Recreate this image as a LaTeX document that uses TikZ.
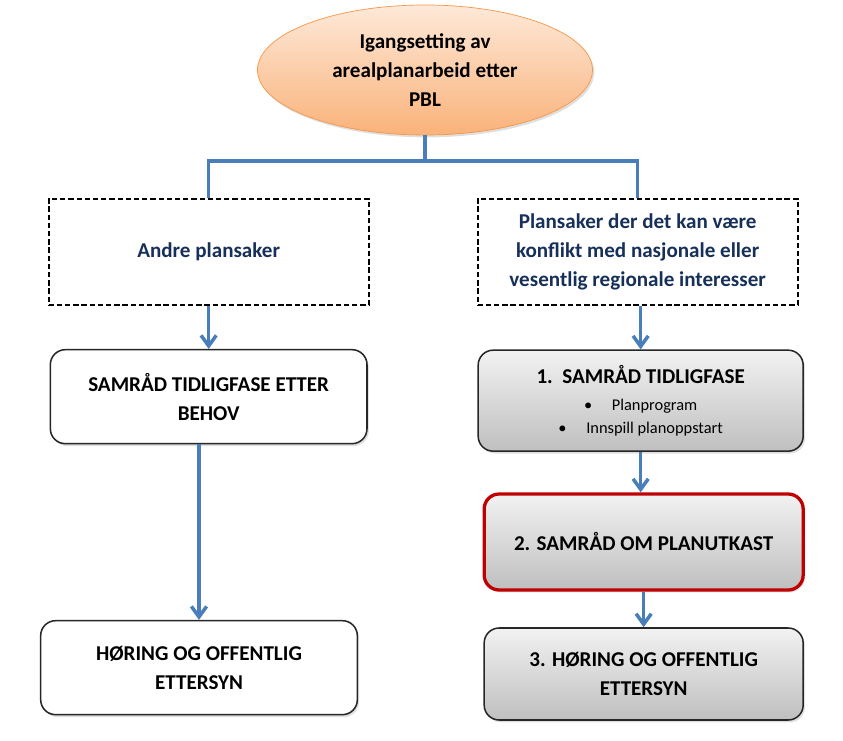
\documentclass[tikz,border=0pt]{standalone}
\usepackage{fontspec}
\setmainfont{Carlito}
\usetikzlibrary{shapes,shadows,arrows.meta}

\definecolor{linkblue}{HTML}{4A7EBB}
\definecolor{ellipseedge}{HTML}{F79646}
\definecolor{ellipsetop}{HTML}{FDE9D9}
\definecolor{ellipsebottom}{HTML}{FAB27A}
\definecolor{greytop}{HTML}{F2F2F2}
\definecolor{greybottom}{HTML}{BFBFBF}
\definecolor{navytext}{HTML}{17305A}
\definecolor{keyred}{HTML}{C00000}

\newcommand{\titlefont}{\bfseries\fontsize{18}{25}\selectfont}
\newcommand{\listfont}{\mdseries\fontsize{14}{20}\selectfont}

\tikzset{
  link/.style={draw=linkblue,line width=3pt},
  arrow/.style={link,-{Straight Barb[length=9pt,width=13pt]}},
  softshadow/.style={drop shadow={opacity=0.25,shadow xshift=1.5pt,shadow yshift=-2pt}},
  startnode/.style={shape=ellipse,draw=ellipseedge,line width=0.6pt,top color=ellipsetop,bottom color=ellipsebottom,align=center,minimum width=10.05cm,minimum height=3.9cm,inner sep=0pt,font=\titlefont,softshadow},
  choicebox/.style={shape=rectangle,draw=black,dash pattern=on 4.5pt off 2.5pt,line width=1.7pt,align=center,minimum width=9.6cm,minimum height=3.2cm,text=navytext,font=\titlefont},
  plainbox/.style={shape=rectangle,rounded corners=0.45cm,draw=black!85,line width=1.3pt,fill=white,align=center,minimum width=9.5cm,minimum height=2.82cm,font=\titlefont,softshadow},
  greybox/.style={plainbox,top color=greytop,bottom color=greybottom,minimum width=9.57cm},
  keybox/.style={draw=keyred,line width=2.8pt}
}

\begin{document}
\begin{tikzpicture}\useasboundingbox (0,0) rectangle (25.29,-22.2);
\node[startnode] (0) at (12.75,-2.1) {Igangsetting av\\arealplanarbeid etter\\PBL};
\node[choicebox] (1) at (6.26,-7.56) {Andre plansaker};
\node[choicebox] (2) at (19.13,-7.56) {Plansaker der det kan være\\konflikt med nasjonale eller\\vesentlig regionale interesser};
\node[plainbox] (3) at (6.26,-11.9) {SAMRÅD TIDLIGFASE ETTER\\BEHOV};
\node[plainbox] (4) at (5.97,-20.03) {HØRING OG OFFENTLIG\\ETTERSYN};
\node[greybox,minimum width=9.75cm,minimum height=3.03cm] (5) at (19.22,-12.02) {1.\ \ SAMRÅD TIDLIGFASE\\[-2pt]{\listfont\textbullet\hspace{1.2em}Planprogram}\\[-5pt]{\listfont\textbullet\hspace{1.2em}Innspill planoppstart}};
\node[greybox,keybox,minimum height=2.88cm] (6) at (19.31,-16.26) {2. SAMRÅD OM PLANUTKAST};
\node[greybox,minimum height=2.76cm] (7) at (19.31,-20.22) {3. HØRING OG OFFENTLIG\\ETTERSYN};
\coordinate (8) at (12.75,-4.83);

\draw[link] (0) -- (8) -| (1);
\draw[link] (8) -| (2);
\draw[arrow] (1) -- (3);
\draw[arrow] (3.south -| 4.north) -- (4.north);
\draw[arrow] (2.south -| 5.north) -- (5.north);
\draw[arrow] (5.south) -- (5.south |- 6.north);
\draw[arrow] (6) -- (7);

\end{tikzpicture}
\end{document}
